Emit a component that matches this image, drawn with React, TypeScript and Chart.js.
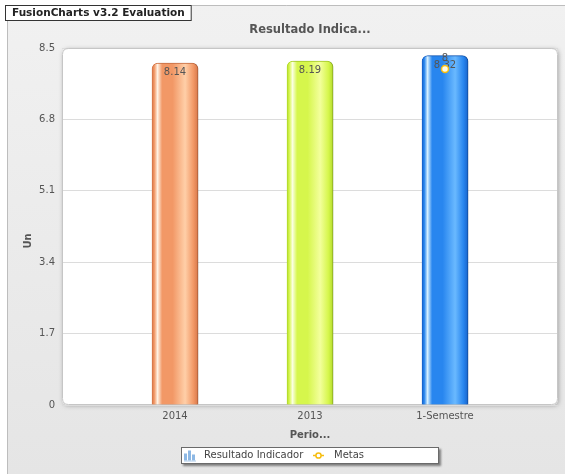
import React, { useEffect, useRef } from 'react';
import { Chart, registerables } from 'chart.js';

Chart.register(...registerables);

// ---- data ----
const periods = ['2014', '2013', '1-Semestre'];
const resultado = [8.14, 8.19, 8.32];
const metas: (number | null)[] = [null, null, 8];
const yTicks = [0, 1.7, 3.4, 5.1, 6.8, 8.5];
const seriesNames = ['Resultado Indicador', 'Metas'];
const chartTitle = 'Resultado Indica...';
const xAxisTitle = 'Perio...';
const yAxisTitle = 'Un';
const watermark = 'FusionCharts v3.2 Evaluation';

// ---- styling ----
const FONT = "'DejaVu Sans', Verdana, sans-serif";
const BAR_W = 46;
const X_PAD = 0.837; // canvas padding on each side, in category widths
const METAS_COLOR = '#F6BD0F';

const barPalettes = [
  { edge: '#d8784a', base: '#f29866', light: '#ffcfa8', shine: '#fff2e4' },
  { edge: '#b4dc2c', base: '#d6f64c', light: '#f3ff9c', shine: '#fbffe2' },
  { edge: '#1764cc', base: '#2886ef', light: '#6ab9ff', shine: '#d6f0ff' },
];

function barGradient(chart: any, index: number, part: 'fill' | 'edge') {
  const pal = barPalettes[(index || 0) % barPalettes.length];
  if (part === 'edge') return pal.edge;
  const xs = chart.scales && chart.scales.x;
  if (!xs || typeof index !== 'number') return pal.base;
  const cx = xs.getPixelForValue(index);
  if (!Number.isFinite(cx)) return pal.base;
  const g = chart.ctx.createLinearGradient(cx - BAR_W / 2, 0, cx + BAR_W / 2, 0);
  g.addColorStop(0, pal.edge);
  g.addColorStop(0.05, pal.base);
  g.addColorStop(0.12, pal.shine);
  g.addColorStop(0.22, pal.base);
  g.addColorStop(0.45, pal.base);
  g.addColorStop(0.72, pal.light);
  g.addColorStop(0.9, pal.base);
  g.addColorStop(1, pal.edge);
  return g;
}

function roundRect(ctx: CanvasRenderingContext2D, x: number, y: number, w: number, h: number, r: number) {
  ctx.beginPath();
  ctx.moveTo(x + r, y);
  ctx.lineTo(x + w - r, y);
  ctx.quadraticCurveTo(x + w, y, x + w, y + r);
  ctx.lineTo(x + w, y + h - r);
  ctx.quadraticCurveTo(x + w, y + h, x + w - r, y + h);
  ctx.lineTo(x + r, y + h);
  ctx.quadraticCurveTo(x, y + h, x, y + h - r);
  ctx.lineTo(x, y + r);
  ctx.quadraticCurveTo(x, y, x + r, y);
  ctx.closePath();
}

const framePlugin = {
  id: 'frame',
  beforeDraw(chart: any) {
    const { ctx, width, height, chartArea: a } = chart;
    ctx.save();
    ctx.fillStyle = '#ffffff';
    ctx.fillRect(0, 0, width, height);
    // outer background
    const bg = ctx.createLinearGradient(0, 5, 0, height);
    bg.addColorStop(0, '#f1f1f1');
    bg.addColorStop(1, '#e5e5e5');
    ctx.fillStyle = bg;
    ctx.fillRect(7, 5, width - 7, height - 5);
    ctx.strokeStyle = '#bdbdbd';
    ctx.lineWidth = 1;
    ctx.beginPath();
    ctx.moveTo(7.5, height);
    ctx.lineTo(7.5, 5.5);
    ctx.lineTo(width, 5.5);
    ctx.stroke();
    // plot box
    ctx.shadowColor = 'rgba(0,0,0,0.28)';
    ctx.shadowBlur = 4;
    ctx.shadowOffsetX = 1;
    ctx.shadowOffsetY = 1;
    roundRect(ctx, a.left, a.top, a.right - a.left, a.bottom - a.top, 6);
    ctx.fillStyle = '#ffffff';
    ctx.fill();
    ctx.restore();
  },
  beforeDatasetsDraw(chart: any) {
    const { ctx, chartArea: a } = chart;
    ctx.save();
    ctx.strokeStyle = '#c6c6c6';
    ctx.lineWidth = 1;
    roundRect(ctx, a.left + 0.5, a.top + 0.5, a.right - a.left - 1, a.bottom - a.top - 1, 6);
    ctx.stroke();
    ctx.restore();
  },
  beforeDatasetDraw(chart: any, args: any) {
    if (args.meta.type === 'bar') {
      const ctx = chart.ctx;
      ctx.save();
      ctx.shadowColor = 'rgba(0,0,0,0.22)';
      ctx.shadowBlur = 2;
      ctx.shadowOffsetX = 2;
      ctx.shadowOffsetY = 0;
    }
  },
  afterDatasetDraw(chart: any, args: any) {
    const ctx = chart.ctx;
    const meta = args.meta;
    if (meta.type === 'bar') {
      ctx.restore();
      ctx.save();
      ctx.font = `10px ${FONT}`;
      ctx.fillStyle = '#555555';
      ctx.textAlign = 'center';
      ctx.textBaseline = 'middle';
      meta.data.forEach((el: any, i: number) => {
        ctx.fillText(String(resultado[i]), el.x, el.y + 9.5);
      });
      ctx.restore();
    } else if (meta.type === 'line') {
      ctx.save();
      ctx.font = `10px ${FONT}`;
      ctx.fillStyle = '#555555';
      ctx.textAlign = 'center';
      ctx.textBaseline = 'middle';
      meta.data.forEach((el: any, i: number) => {
        if (metas[i] === null || el.skip) return;
        ctx.fillText(String(metas[i]), el.x, el.y - 10.5);
      });
      ctx.restore();
    }
  },
  afterDraw(chart: any) {
    const { ctx, chartArea: a } = chart;
    const cx = (a.left + a.right) / 2;
    ctx.save();
    ctx.textBaseline = 'middle';
    ctx.textAlign = 'center';

    // chart title
    ctx.fillStyle = '#555555';
    ctx.font = `bold 11.5px ${FONT}`;
    ctx.fillText(chartTitle, cx, 30);

    // axis titles
    ctx.font = `bold 10px ${FONT}`;
    ctx.fillText(xAxisTitle, cx, 435);
    ctx.save();
    ctx.translate(28.5, 241);
    ctx.rotate(-Math.PI / 2);
    ctx.fillText(yAxisTitle, 0, 0);
    ctx.restore();

    // legend
    const lx = cx - 129;
    const ly = 447;
    const lw = 258;
    const lh = 17;
    ctx.save();
    ctx.shadowColor = 'rgba(0,0,0,0.45)';
    ctx.shadowBlur = 2;
    ctx.shadowOffsetX = 2;
    ctx.shadowOffsetY = 2;
    ctx.fillStyle = '#ffffff';
    ctx.fillRect(lx, ly, lw, lh);
    ctx.restore();
    ctx.strokeStyle = '#6a6a6a';
    ctx.lineWidth = 1;
    ctx.strokeRect(lx + 0.5, ly + 0.5, lw - 1, lh - 1);

    // bar icon
    const iy = ly + lh / 2;
    ctx.fillStyle = '#8db8e4';
    const ix = lx + 3;
    ctx.fillRect(ix, iy - 2, 3, 7);
    ctx.fillRect(ix + 4, iy - 5, 3, 10);
    ctx.fillRect(ix + 8, iy - 1, 3, 6);
    ctx.fillStyle = '#a9c9ea';
    ctx.fillRect(ix, iy + 5, 12, 1);

    ctx.fillStyle = '#444444';
    ctx.font = `10px ${FONT}`;
    ctx.textAlign = 'left';
    ctx.fillText(seriesNames[0], lx + 23, iy);

    // line icon
    const mx = lx + 132;
    ctx.strokeStyle = METAS_COLOR;
    ctx.lineWidth = 1.5;
    ctx.beginPath();
    ctx.moveTo(mx, iy);
    ctx.lineTo(mx + 11, iy);
    ctx.stroke();
    ctx.beginPath();
    ctx.arc(mx + 5.5, iy, 2.6, 0, Math.PI * 2);
    ctx.fillStyle = '#ffffff';
    ctx.fill();
    ctx.stroke();
    ctx.fillStyle = '#444444';
    ctx.fillText(seriesNames[1], lx + 153, iy);

    // evaluation badge
    ctx.font = `bold 10.5px ${FONT}`;
    const tw = ctx.measureText(watermark).width;
    ctx.fillStyle = '#ffffff';
    ctx.fillRect(5, 5, tw + 14, 16);
    ctx.strokeStyle = '#333333';
    ctx.lineWidth = 1;
    ctx.strokeRect(5.5, 5.5, tw + 13, 15);
    ctx.fillStyle = '#222222';
    ctx.fillText(watermark, 12, 13.5);
    ctx.restore();
  },
};

export default function App() {
  const canvasRef = useRef<HTMLCanvasElement | null>(null);

  useEffect(() => {
    const canvas = canvasRef.current;
    if (!canvas) return;
    Chart.defaults.font.family = FONT;

    const chart = new Chart(canvas, {
      type: 'bar',
      data: {
        datasets: [
          {
            type: 'bar',
            label: seriesNames[0],
            data: resultado.map((v, i) => ({ x: i, y: v })),
            backgroundColor: (c: any) => barGradient(c.chart, c.dataIndex, 'fill'),
            borderColor: (c: any) => barGradient(c.chart, c.dataIndex, 'edge'),
            borderWidth: 1,
            borderRadius: { topLeft: 6, topRight: 6, bottomLeft: 0, bottomRight: 0 },
            borderSkipped: 'bottom',
            barThickness: BAR_W,
            order: 2,
          } as any,
          {
            type: 'line',
            label: seriesNames[1],
            data: metas.map((v, i) => ({ x: i, y: v })),
            borderColor: METAS_COLOR,
            borderWidth: 2,
            pointRadius: 3.5,
            pointBackgroundColor: '#fffbe8',
            pointBorderColor: METAS_COLOR,
            pointBorderWidth: 1.5,
            order: 1,
          } as any,
        ],
      },
      options: {
        responsive: false,
        animation: false,
        devicePixelRatio: 1,
        layout: { padding: { top: 48, right: 7, bottom: 49, left: 0 } },
        plugins: {
          legend: { display: false },
          title: { display: false },
          tooltip: { enabled: false },
        },
        scales: {
          x: {
            type: 'linear',
            min: -X_PAD,
            max: periods.length - 1 + X_PAD,
            offset: false,
            grid: { display: false, drawTicks: false },
            border: { display: false },
            ticks: {
              autoSkip: false,
              maxRotation: 0,
              padding: 5,
              color: '#555555',
              font: { family: FONT, size: 10 },
              callback: (v: any) => periods[v] ?? '',
            },
            afterBuildTicks: (s: any) => {
              s.ticks = periods.map((_, i) => ({ value: i }));
            },
            afterFit: (s: any) => {
              s.height = 20;
            },
          },
          y: {
            min: 0,
            max: 8.5,
            grid: { color: '#dcdcdc', drawTicks: false },
            border: { display: false },
            ticks: {
              padding: 7,
              color: '#555555',
              font: { family: FONT, size: 10 },
              callback: (v: any) => (v === 0 ? '0' : Number(v).toFixed(1)),
            },
            afterBuildTicks: (s: any) => {
              s.ticks = yTicks.map((value) => ({ value }));
            },
            afterFit: (s: any) => {
              s.width = 62;
            },
          },
        },
      } as any,
      plugins: [framePlugin as any],
    });

    return () => chart.destroy();
  }, []);

  return (
    <div style={{ position: 'absolute', left: 0, top: 0, width: 565, height: 474 }}>
      <canvas ref={canvasRef} width={565} height={474} style={{ display: 'block' }} />
    </div>
  );
}
